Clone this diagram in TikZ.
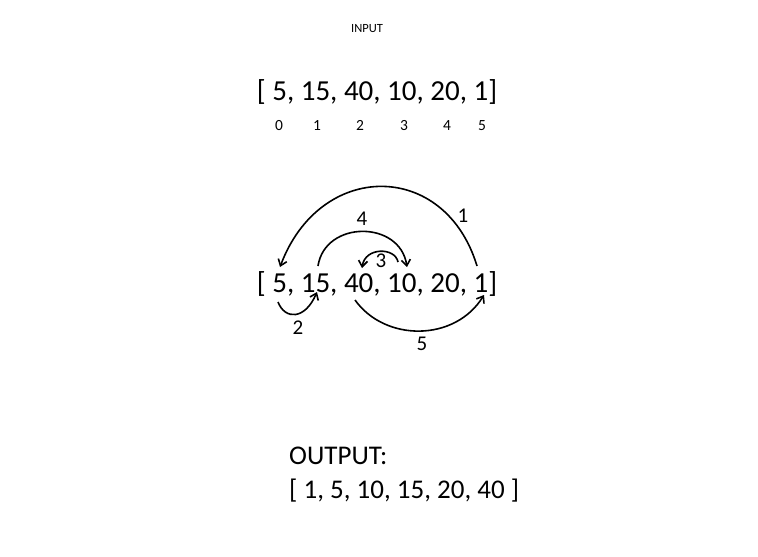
\documentclass[tikz,border=0pt]{standalone}
\usepackage{fontspec}
\setmainfont{Carlito}
\usetikzlibrary{arrows.meta}
\begin{document}
\begin{tikzpicture}[x=1pt,y=-1pt,
  arr/.style={line width=1.6pt,-{Straight Barb[length=6pt,width=9pt,line width=1.6pt]}},
  big/.style={inner sep=0pt,anchor=base,font=\fontsize{29}{33}\selectfont},
  idx/.style={inner sep=0pt,anchor=base,font=\fontsize{15.5}{18}\selectfont},
  lab/.style={inner sep=0pt,anchor=base,font=\fontsize{21}{24}\selectfont},
  small/.style={inner sep=0pt,font=\fontsize{12.5}{14}\selectfont},
  outtxt/.style={inner sep=0pt,anchor=base west,font=\fontsize{27}{30}\selectfont}]
\fill[white] (0,0) rectangle (758,557);
\useasboundingbox (0,0) rectangle (758,557);
\node[small] (title) at (367,29) {INPUT};
\node[big] (arr1) at (377,100) {[ 5, 15, 40, 10, 20, 1]};
\node[idx] (i0) at (279,130) {0};
\node[idx] (i1) at (317,130) {1};
\node[idx] (i2) at (360,130) {2};
\node[idx] (i3) at (404,130) {3};
\node[idx] (i4) at (447,130) {4};
\node[idx] (i5) at (482,130) {5};
\node[big] (arr2) at (377,292) {[ 5, 15, 40, 10, 20, 1]};
\coordinate (a1s) at (477,266);
\coordinate (a1e) at (280,267);
\coordinate (a4s) at (318,266);
\coordinate (a4e) at (407,267);
\coordinate (a3s) at (398,262);
\coordinate (a3e) at (362,268);
\coordinate (a2s) at (278,302);
\coordinate (a2e) at (317,292);
\coordinate (a5s) at (355,300);
\coordinate (a5e) at (484,295);
\draw[arr] (a1s) .. controls (445,160) and (320,160) .. (a1e);
\draw[arr] (a4s) .. controls (325,220) and (400,220) .. (a4e);
\draw[arr] (a3s) .. controls (395,247) and (365,247) .. (a3e);
\draw[arr] (a2s) .. controls (285,320) and (305,320) .. (a2e);
\draw[arr] (a5s) .. controls (385,342) and (455,342) .. (a5e);
\node[lab] (l1) at (463,222.5) {1};
\node[lab] (l4) at (362,225.5) {4};
\node[lab] (l3) at (381,267) {3};
\node[lab] (l2) at (298,334.5) {2};
\node[lab] (l5) at (422,350.5) {5};
\node[outtxt] (out) at (289,464.5) {OUTPUT:};
\node[outtxt] (outlist) at (289,498.5) {[ 1, 5, 10, 15, 20, 40 ]};
\end{tikzpicture}
\end{document}
